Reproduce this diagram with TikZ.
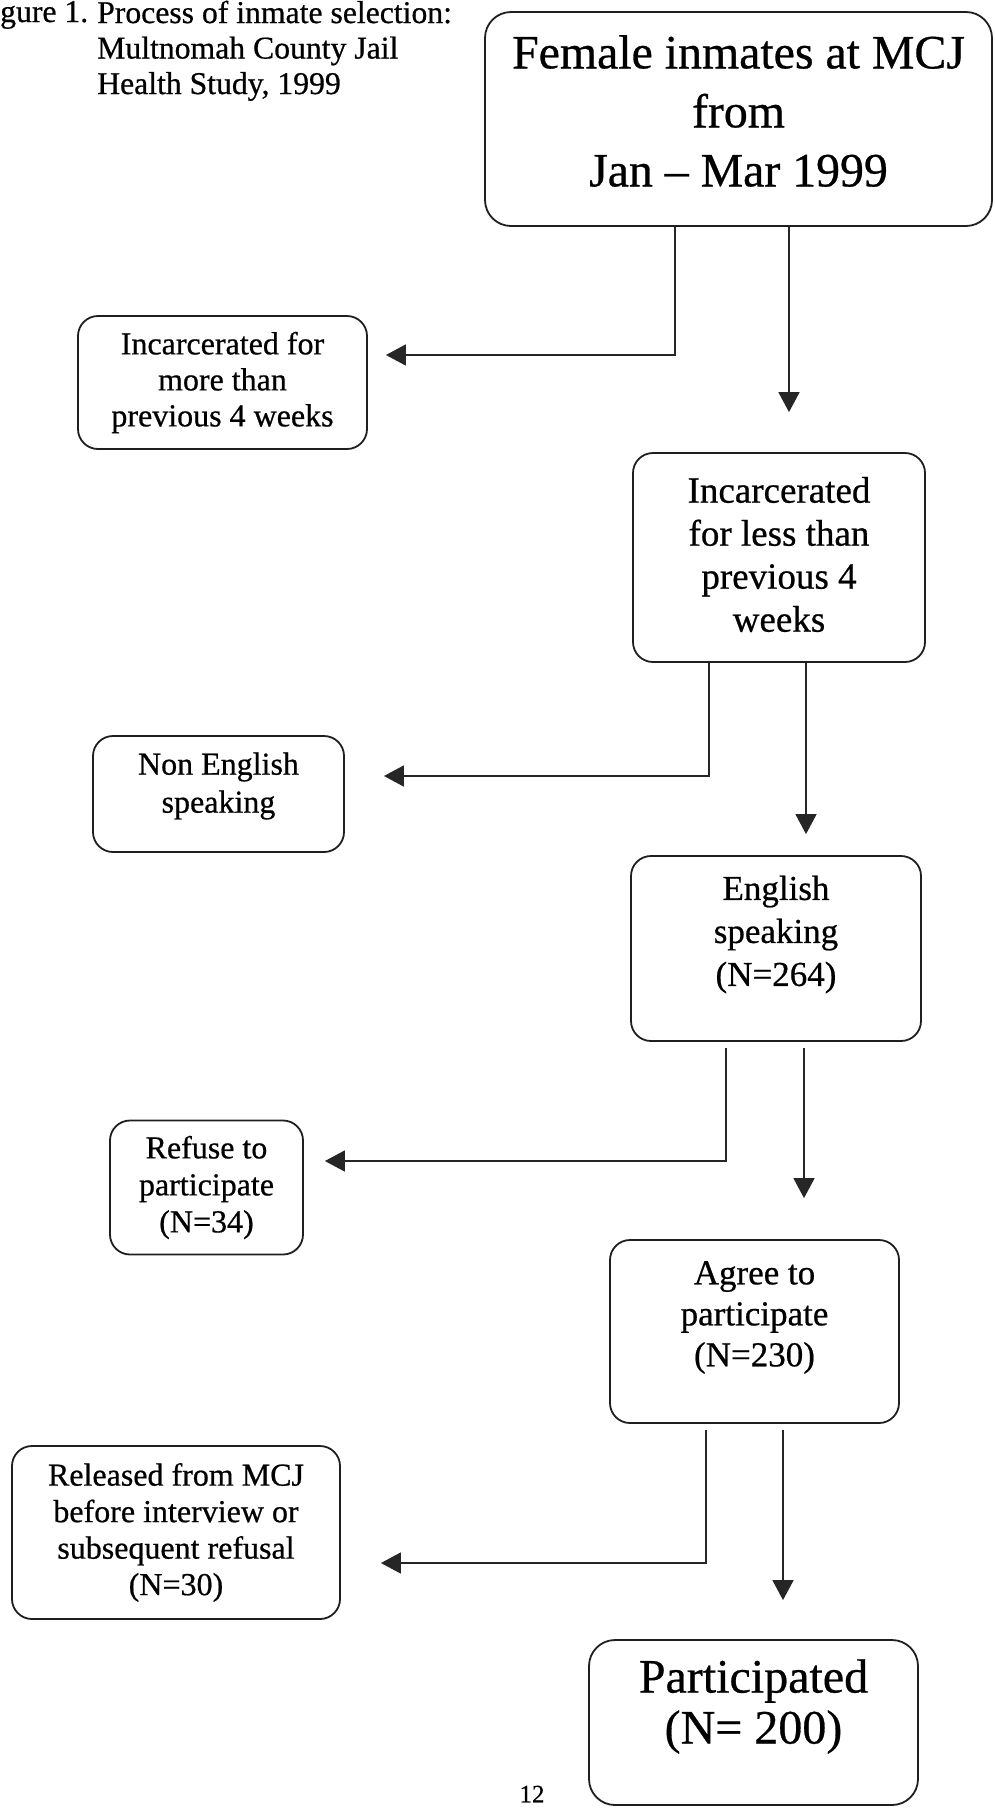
\documentclass[tikz,border=0pt]{standalone}
\usepackage{fontspec}
\setmainfont[FakeBold=0.6]{Liberation Serif}
\usetikzlibrary{arrows.meta}
\begin{document}
\begin{tikzpicture}[x=1pt,y=-1pt,
  box/.style={draw=black!88, line width=1.8pt, rounded corners=20pt, inner sep=0pt},
  btext/.style={align=center, text=black, inner sep=0pt},
  conn/.style={draw=black!85, line width=1.6pt, -{Triangle[length=20pt,width=21pt]}},
  ttl/.style={text=black, inner sep=0pt, font=\fontsize{31.7}{35.5}\selectfont},
]
\useasboundingbox (0,0) rectangle (994,1808);

% caption
\node[ttl, anchor=base west] (fig) at (0,22) {gure 1.};
\node[ttl, anchor=north west, align=left] (cap) at (97,0.5) {Process of inmate selection:\\Multnomah County Jail\\Health Study, 1999};

% boxes
\node[box, rounded corners=26pt, minimum width=507pt, minimum height=214pt,
  label={[btext, font=\fontsize{47.8}{59}\selectfont, yshift=8pt]center:{Female inmates at MCJ\\from\\Jan \textendash{} Mar 1999}}]
  (top) at (738.5,119) {};
\node[box, minimum width=289pt, minimum height=133pt,
  label={[btext, font=\fontsize{32}{36}\selectfont]center:{Incarcerated for\\more than\\previous 4 weeks}}]
  (more) at (222.5,382.5) {};
\node[box, minimum width=292pt, minimum height=209pt,
  label={[btext, font=\fontsize{37}{43}\selectfont, yshift=3pt]center:{Incarcerated\\for less than\\previous 4\\weeks}}]
  (less) at (779,557.5) {};
\node[box, minimum width=251pt, minimum height=116pt,
  label={[btext, font=\fontsize{32}{38}\selectfont, yshift=8pt]center:{Non English\\speaking}}]
  (nonen) at (218.5,794) {};
\node[box, minimum width=290pt, minimum height=185pt,
  label={[btext, font=\fontsize{35}{43}\selectfont, yshift=14pt]center:{English\\speaking\\(N=264)}}]
  (eng) at (776,948.5) {};
\node[box, minimum width=193pt, minimum height=134pt,
  label={[btext, font=\fontsize{32}{37}\selectfont]center:{Refuse to\\participate\\(N=34)}}]
  (refuse) at (206.5,1187.5) {};
\node[box, minimum width=289pt, minimum height=183pt,
  label={[btext, font=\fontsize{35}{41}\selectfont, yshift=14pt]center:{Agree to\\participate\\(N=230)}}]
  (agree) at (754.5,1331.5) {};
\node[box, minimum width=328pt, minimum height=173pt,
  label={[btext, font=\fontsize{32}{36.5}\selectfont]center:{Released from MCJ\\before interview or\\subsequent refusal\\(N=30)}}]
  (rel) at (176,1532.5) {};
\node[box, rounded corners=26pt, minimum width=329pt, minimum height=165pt,
  label={[btext, font=\fontsize{48}{51}\selectfont, yshift=16pt]center:{Participated\\(N= 200)}}]
  (part) at (753.5,1722.5) {};

% page number
\node[ttl, font=\fontsize{25}{28}\selectfont] (pg) at (532,1794) {12};

% connector coordinates
\coordinate (xa) at (675,0);
\coordinate (xb) at (789,0);
\coordinate (ya) at (0,355);
\coordinate (xc) at (709,0);
\coordinate (xd) at (806,0);
\coordinate (yb) at (0,776);
\coordinate (xe) at (726,0);
\coordinate (xf) at (804,0);
\coordinate (yc) at (0,1161);
\coordinate (xg) at (706,0);
\coordinate (xh) at (783,0);
\coordinate (yd) at (0,1563);

% connectors
\draw[conn, shorten >=18pt] (top.south -| xa) |- (more.east |- ya);
\draw[conn, shorten >=40pt] (top.south -| xb) -- (less.north -| xb);
\draw[conn, shorten >=39pt] (less.south -| xc) |- (nonen.east |- yb);
\draw[conn, shorten >=21pt] (less.south -| xd) -- (eng.north -| xd);
\draw[conn, shorten <=6pt, shorten >=21pt] (eng.south -| xe) |- (refuse.east |- yc);
\draw[conn, shorten <=6pt, shorten >=41pt] (eng.south -| xf) -- (agree.north -| xf);
\draw[conn, shorten <=6pt, shorten >=40pt] (agree.south -| xg) |- (rel.east |- yd);
\draw[conn, shorten <=6pt, shorten >=39pt] (agree.south -| xh) -- (part.north -| xh);
\end{tikzpicture}
\end{document}
